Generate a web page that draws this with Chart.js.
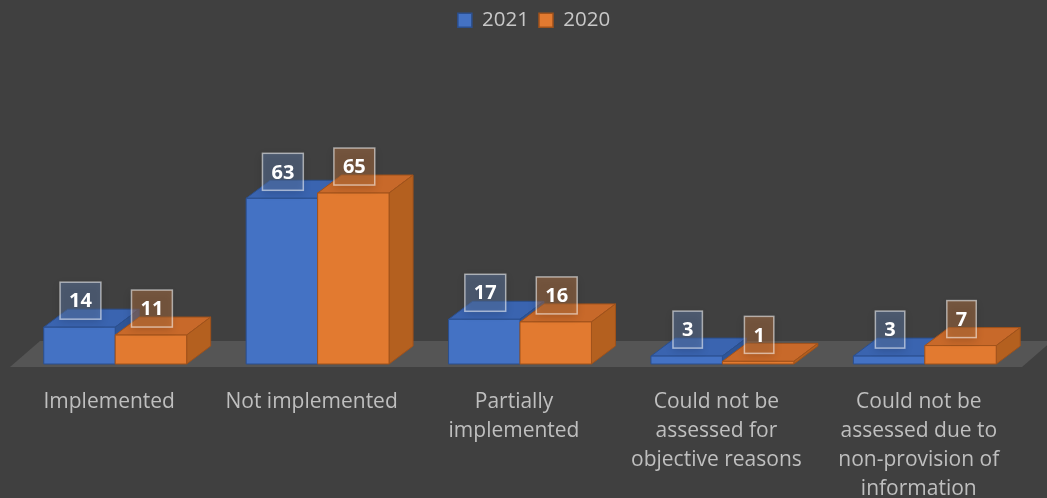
<!DOCTYPE html>
<html>
<head>
<meta charset="utf-8">
<script src="https://cdn.jsdelivr.net/npm/chart.js@4.4.1/dist/chart.umd.min.js"></script>
<style>
  html, body { margin: 0; padding: 0; background: #404040; }
  #wrap { width: 1047px; height: 498px; }
</style>
</head>
<body>
<div id="wrap"><canvas id="statusChart"></canvas></div>
<script>
// categories and values per year
const categories = [
    'Implemented',
    'Not implemented',
    ['Partially', 'implemented'],
    ['Could not be', 'assessed for', 'objective reasons'],
    ['Could not be', 'assessed due to', 'non-provision of', 'information']
];
const values2021 = [14, 63, 17, 3, 3];
const values2020 = [11, 65, 16, 1, 7];

// face colours for the 3d boxes
const faces = [
    { front: '#4472c4', top: '#3a64b0', side: '#2f5597', edge: '#2b4f8e', label: 'rgba(95,125,170,0.45)' },
    { front: '#e27a30', top: '#c8692a', side: '#b4601f', edge: '#a0521b', label: 'rgba(185,115,65,0.45)' }
];
const depthX = 24, depthY = -18;

function poly(ctx, pts, fill, stroke) {
    ctx.beginPath();
    ctx.moveTo(pts[0][0], pts[0][1]);
    for (let i = 1; i < pts.length; i++) ctx.lineTo(pts[i][0], pts[i][1]);
    ctx.closePath();
    ctx.fillStyle = fill;
    ctx.fill();
    if (stroke) {
        ctx.strokeStyle = stroke;
        ctx.lineWidth = 1;
        ctx.stroke();
    }
}

const box3d = {
    id: 'box3d',
    afterLayout(chart) {
        // nudge the legend a little to the right of centre
        chart.legend.left += 28;
    },
    beforeDatasetsDraw(chart) {
        // grey floor under the bars
        const { ctx, chartArea: a } = chart;
        const fy = a.bottom + 3;
        poly(ctx, [
            [a.left - 4, fy], [a.right - 4, fy],
            [a.right + 26, fy - 26], [a.left + 26, fy - 26]
        ], '#555555');
    },
    afterDatasetsDraw(chart) {
        const ctx = chart.ctx;
        const boxes = [];
        ctx.save();
        for (let i = 0; i < chart.data.labels.length; i++) {
            chart.data.datasets.forEach((ds, d) => {
                const bar = chart.getDatasetMeta(d).data[i];
                const p = bar.getProps(['x', 'y', 'base', 'width'], true);
                const l = p.x - p.width / 2, r = p.x + p.width / 2;
                const c = faces[d];
                // top face
                poly(ctx, [[l, p.y], [r, p.y], [r + depthX, p.y + depthY], [l + depthX, p.y + depthY]], c.top, c.edge);
                // right side face
                poly(ctx, [[r, p.y], [r + depthX, p.y + depthY], [r + depthX, p.base + depthY], [r, p.base]], c.side, c.edge);
                // front face
                poly(ctx, [[l, p.y], [r, p.y], [r, p.base], [l, p.base]], c.front, c.edge);
                boxes.push({ x: p.x + 1, y: p.y, text: String(ds.data[i]), fill: c.label });
            });
        }
        // value labels
        ctx.font = 'bold 20px "Open Sans"';
        ctx.textAlign = 'center';
        ctx.textBaseline = 'middle';
        boxes.forEach(b => {
            const w = ctx.measureText(b.text).width + 18;
            const h = 37;
            const bx = b.x - w / 2, by = b.y - 8 - h;
            ctx.save();
            ctx.shadowColor = 'rgba(0,0,0,0.35)';
            ctx.shadowBlur = 8;
            ctx.shadowOffsetY = 3;
            ctx.fillStyle = b.fill;
            ctx.fillRect(bx, by, w, h);
            ctx.restore();
            ctx.strokeStyle = 'rgba(255,255,255,0.55)';
            ctx.lineWidth = 1.5;
            ctx.strokeRect(bx, by, w, h);
            ctx.fillStyle = '#ffffff';
            ctx.fillText(b.text, b.x, by + h / 2 + 1);
        });
        ctx.restore();
    }
};

new Chart(document.getElementById('statusChart'), {
    type: 'bar',
    data: {
        labels: categories,
        datasets: [
            { label: '2021', data: values2021, backgroundColor: faces[0].front, borderColor: faces[0].edge, borderWidth: 1.5 },
            { label: '2020', data: values2020, backgroundColor: faces[1].front, borderColor: faces[1].edge, borderWidth: 1.5 }
        ]
    },
    options: {
        responsive: true,
        maintainAspectRatio: false,
        animation: false,
        layout: { padding: { left: 14, right: 21, top: 0, bottom: 0 } },
        categoryPercentage: 0.706,
        barPercentage: 1,
        scales: {
            x: {
                grid: { display: false, drawTicks: false },
                border: { display: false },
                ticks: {
                    color: '#bfbfbf',
                    font: { family: 'Open Sans', size: 21, lineHeight: 1.37 },
                    padding: 24,
                    labelOffset: -6,
                    maxRotation: 0,
                    autoSkip: false
                },
                afterFit(scale) { scale.height = 134; }
            },
            y: { display: false, min: 0, max: 123 }
        },
        plugins: {
            legend: {
                position: 'top',
                labels: {
                    color: '#c8c8c8',
                    font: { family: 'Open Sans', size: 20.5 },
                    boxWidth: 14,
                    boxHeight: 14,
                    padding: 10
                }
            },
            tooltip: { enabled: false }
        }
    },
    plugins: [box3d]
});
</script>
</body>
</html>
